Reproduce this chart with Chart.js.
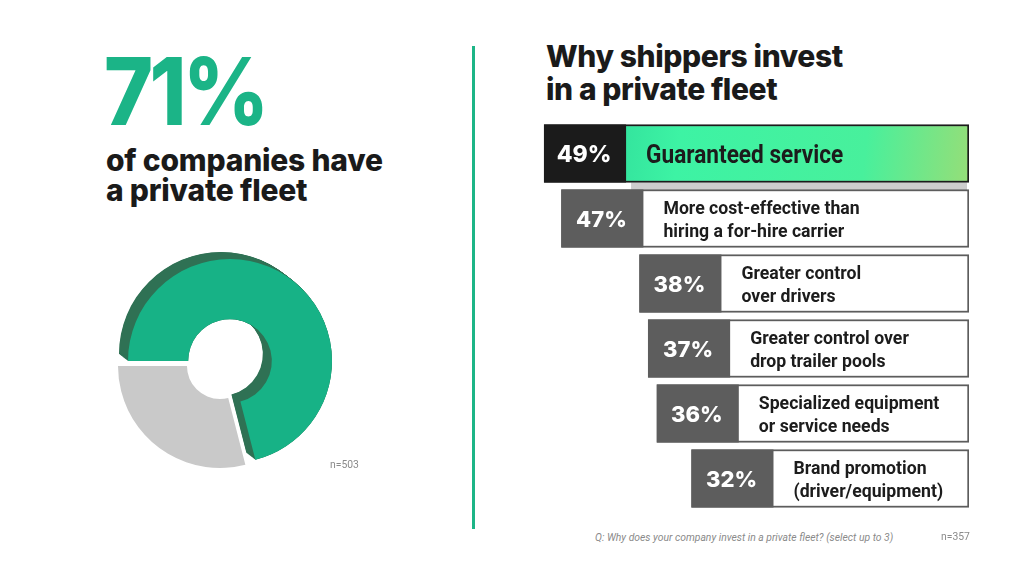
<!DOCTYPE html>
<html>
<head>
<meta charset="utf-8">
<script src="https://cdn.jsdelivr.net/npm/chart.js@4.4.0/dist/chart.umd.min.js"></script>
<style>
  html, body { margin: 0; padding: 0; background: #fff; }
  body { width: 1024px; height: 576px; position: relative; overflow: hidden; font-family: Inter, "Open Sans", sans-serif; }
  .abs { position: absolute; white-space: nowrap; }
  #big { left: 104px; top: 44px; font-size: 94px; line-height: 94px; font-weight: 800; color: #1bb487; letter-spacing: -4px; transform-origin: left center; transform: scaleX(0.89); }
  #sub { left: 106px; top: 145px; font-size: 30px; line-height: 30px; font-weight: 800; color: #1a1a1a; letter-spacing: -0.2px; }
  #title { left: 546px; top: 40px; font-size: 30px; line-height: 33px; font-weight: 800; color: #1a1a1a; letter-spacing: -0.4px; }
  #divider { left: 472px; top: 46px; width: 3px; height: 483px; background: #1db587; }
  .note { font-family: Roboto, sans-serif; font-size: 11.5px; color: #8a8a8a; transform-origin: left center; transform: scaleX(0.9); }
  #q { left: 595px; top: 530px; font-style: italic; }
  #n1 { left: 330px; top: 457px; }
  #n2 { left: 941px; top: 529px; }
  #pie { position: absolute; left: 103px; top: 238px; }
  #bars { position: absolute; left: 440px; top: 100px; }
</style>
</head>
<body>
<div class="abs" id="big"></div>
<div class="abs" id="sub">of companies have<br>a private fleet</div>
<div class="abs" id="divider"></div>
<div class="abs" id="title">Why shippers invest<br>in a private fleet</div>
<canvas id="pie" width="244" height="244"></canvas>
<canvas id="bars" width="550" height="430"></canvas>
<div class="abs note" id="n1">n=503</div>
<div class="abs note" id="q">Q: Why does your company invest in a private fleet? (select up to 3)</div>
<div class="abs note" id="n2">n=357</div>
<script>
const fleetLabels = ['Have a private fleet', 'No private fleet'];
const fleetValues = [71, 29];
const fleetColors = ['#17b286', '#c9c9c9'];
const fleetDepth = '#2f7154';

const reasonLabels = [
  ['Guaranteed service'],
  ['More cost-effective than', 'hiring a for-hire carrier'],
  ['Greater control', 'over drivers'],
  ['Greater control over', 'drop trailer pools'],
  ['Specialized equipment', 'or service needs'],
  ['Brand promotion', '(driver/equipment)']
];
const reasonValues = [49, 47, 38, 37, 36, 32];

document.getElementById('big').textContent = fleetValues[0] + '%';

// 3D-ish doughnut: green slice extruded up-left, grey slice pulled apart
const fleetShade = {
  id: 'fleetShade',
  beforeDatasetDraw(chart) {
    const ctx = chart.ctx;
    const arcs = chart.getDatasetMeta(0).data;
    const ring = (a, dx, dy, color, inner = 1) => {
      ctx.beginPath();
      ctx.arc(a.x + dx, a.y + dy, a.outerRadius, a.startAngle, a.endAngle);
      ctx.arc(a.x + dx, a.y + dy, a.innerRadius * inner, a.endAngle, a.startAngle, true);
      ctx.closePath();
      ctx.fillStyle = color;
      ctx.fill();
    };
    ctx.save();
    for (let s = 0; s <= 20; s++) ring(arcs[0], 5 - s * 0.45, 1 - s * 0.35, fleetDepth);
    ring(arcs[1], -5, 6, fleetColors[1], 0.79);
    ring(arcs[0], 5, 1, fleetColors[0]);
    ctx.restore();
    return false;
  }
};

new Chart(document.getElementById('pie'), {
  type: 'doughnut',
  data: {
    labels: fleetLabels,
    datasets: [{ data: fleetValues, backgroundColor: fleetColors, borderWidth: 0 }]
  },
  options: {
    responsive: false,
    animation: false,
    rotation: -90,
    cutout: '41%',
    layout: { padding: 20 },
    plugins: { legend: { display: false }, tooltip: { enabled: false } }
  },
  plugins: [fleetShade]
});

function condensedText(ctx, text, x, y, sx) {
  ctx.save();
  ctx.translate(x, y);
  ctx.scale(sx, 1);
  ctx.fillText(text, 0, 0);
  ctx.restore();
}

const barDecor = {
  id: 'barDecor',
  beforeDatasetsDraw(chart) {
    const ctx = chart.ctx;
    const el = chart.getDatasetMeta(0).data[0];
    const left = Math.min(el.x, el.base), right = Math.max(el.x, el.base);
    const top = el.y - el.height / 2;
    ctx.fillStyle = '#cdcdcd';
    ctx.fillRect(left + 87, top + el.height, right - left - 89, 8);
  },
  afterDatasetsDraw(chart) {
    const ctx = chart.ctx;
    const labels = chart.data.labels;
    const values = chart.data.datasets[0].data;
    chart.getDatasetMeta(0).data.forEach((el, i) => {
      const left = Math.min(el.x, el.base);
      const top = el.y - el.height / 2;
      const first = i === 0;
      ctx.fillStyle = first ? '#1b1b1b' : '#5d5d5d';
      ctx.fillRect(left, top, 82, el.height);

      ctx.fillStyle = '#fff';
      ctx.textAlign = 'center';
      ctx.textBaseline = 'alphabetic';
      ctx.font = `800 ${first ? 23 : 22}px Inter, sans-serif`;
      ctx.fillText(values[i] + '%', left + 40, el.y + 8);

      ctx.fillStyle = '#1c1c1c';
      ctx.textAlign = 'left';
      const lines = labels[i];
      if (first) {
        ctx.font = 'bold 25px Roboto, sans-serif';
        condensedText(ctx, lines[0], left + 102, el.y + 9, 0.905);
      } else {
        ctx.font = 'bold 19px Roboto, sans-serif';
        condensedText(ctx, lines[0], left + 102, el.y - 5, 0.93);
        condensedText(ctx, lines[1], left + 102, el.y + 18, 0.93);
      }
    });
  }
};

function barFill(c) {
  if (c.dataIndex !== 0) return '#ffffff';
  const area = c.chart.chartArea;
  if (!area) return '#3ef0a2';
  const el = c.chart.getDatasetMeta(0).data[0];
  const x0 = el && el.x ? el.x + 82 : area.left;
  const g = c.chart.ctx.createLinearGradient(x0, area.top, area.right, area.top + 60);
  g.addColorStop(0, '#16b489');
  g.addColorStop(0.45, '#3df3a4');
  g.addColorStop(0.8, '#48f09c');
  g.addColorStop(1, '#95de78');
  return g;
}

new Chart(document.getElementById('bars'), {
  type: 'bar',
  data: {
    labels: reasonLabels,
    datasets: [{
      data: reasonValues,
      backgroundColor: barFill,
      borderColor: c => c.dataIndex === 0 ? '#1b1b1b' : '#5d5d5d',
      borderWidth: 2,
      borderSkipped: false,
      barThickness: 58
    }]
  },
  options: {
    indexAxis: 'y',
    responsive: false,
    animation: false,
    layout: { padding: { top: 21, right: 21, bottom: 19, left: 0 } },
    scales: {
      x: { display: false, reverse: true, min: 0, max: 61 },
      y: { display: false }
    },
    plugins: { legend: { display: false }, tooltip: { enabled: false } }
  },
  plugins: [barDecor]
});
</script>
</body>
</html>
